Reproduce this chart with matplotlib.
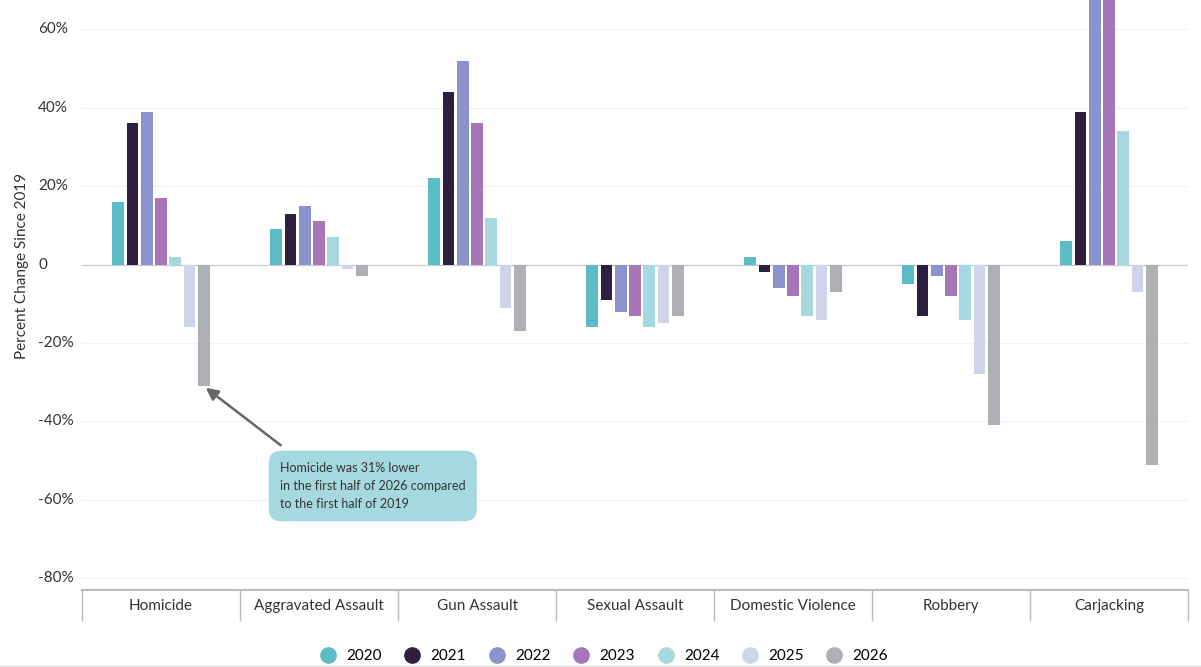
import matplotlib
matplotlib.use("Agg")
import matplotlib.pyplot as plt
from matplotlib.lines import Line2D
import numpy as np

plt.rcParams['font.family'] = ['Lato', 'DejaVu Sans']

categories = ["Homicide", "Aggravated Assault", "Gun Assault", "Sexual Assault",
              "Domestic Violence", "Robbery", "Carjacking"]
years = ["2020", "2021", "2022", "2023", "2024", "2025", "2026"]
values = {
    "2020": [16, 9, 22, -16, 2, -5, 6],
    "2021": [36, 13, 44, -9, -2, -13, 39],
    "2022": [39, 15, 52, -12, -6, -3, 75],
    "2023": [17, 11, 36, -13, -8, -8, 75],
    "2024": [2, 7, 12, -16, -13, -14, 34],
    "2025": [-16, -1, -11, -15, -14, -28, -7],
    "2026": [-31, -3, -17, -13, -7, -41, -51],
}
colors = ["#5bbcc8", "#2e1f3e", "#8a93cc", "#a776b8", "#a6d8e0", "#d0d4ea", "#aeb0b5"]
yticks = [60, 40, 20, 0, -20, -40, -60, -80]

fig = plt.figure(figsize=(12.01, 6.67), dpi=100)
ax = fig.add_axes([82/1201, 1-590/667, 1106/1201, 590/667])
x = np.arange(len(categories))
step = 0.09
w = 0.075
for i, y in enumerate(years):
    ax.bar(x + (i-3)*step, values[y], width=w, color=colors[i], zorder=3)

ax.set_xlim(-0.5, 6.5)
ax.set_ylim(-83, 67.5)
for t in yticks:
    ax.axhline(t, color="#f0f0f0" if t != 0 else "#cccccc", lw=1 if t == 0 else 0.8, zorder=1)
ax.set_yticks([]); ax.set_xticks([])
for s in ["top", "right", "left"]:
    ax.spines[s].set_visible(False)
ax.spines["bottom"].set_color("#bbbbbb"); ax.spines["bottom"].set_linewidth(1.5)

for t in yticks:
    fig.text(38/1201, ax.transData.transform((0, t))[1]/667, f"{t}%" if t != 0 else "0",
             ha="left", va="center", fontsize=11, color="#333333")
fig.text(22/1201, 1-266/667, "Percent Change Since 2019", rotation=90, ha="center",
         va="center", fontsize=11, color="#333333")

for k in range(8):
    xs = (82 + k*158)/1201
    fig.add_artist(Line2D([xs, xs], [1-590/667, 1-620/667], color="#bbbbbb", lw=1))
for k, c in enumerate(categories):
    fig.text((82 + 79 + k*158)/1201, 1-606/667, c, ha="center", va="center",
             fontsize=11, color="#333333")

# annotation
ax.annotate("", xy=(0 + 3*step, -31), xytext=(283/1201, 1-447/667),
            textcoords="figure fraction",
            arrowprops=dict(arrowstyle="-|>", color="#666666", lw=1.8, mutation_scale=18))
fig.text(280/1201, 1-486/667,
         "Homicide was 31% lower\nin the first half of 2026 compared\nto the first half of 2019",
         ha="left", va="center", fontsize=9, color="#333333", linespacing=1.6,
         bbox=dict(boxstyle="round,pad=0.9,rounding_size=1.0", fc="#a6d8e0", ec="none"))

# legend
handles = [Line2D([], [], marker="o", ls="", markersize=11, color=c) for c in colors]
fig.legend(handles, years, loc="center", bbox_to_anchor=(0.5, 1-656/667), ncol=7,
           frameon=False, fontsize=11, handletextpad=0.2, columnspacing=1.0)
fig.add_artist(Line2D([0, 1], [1-666/667, 1-666/667], color="#dddddd", lw=1))

fig.savefig("out.png", dpi=100)
